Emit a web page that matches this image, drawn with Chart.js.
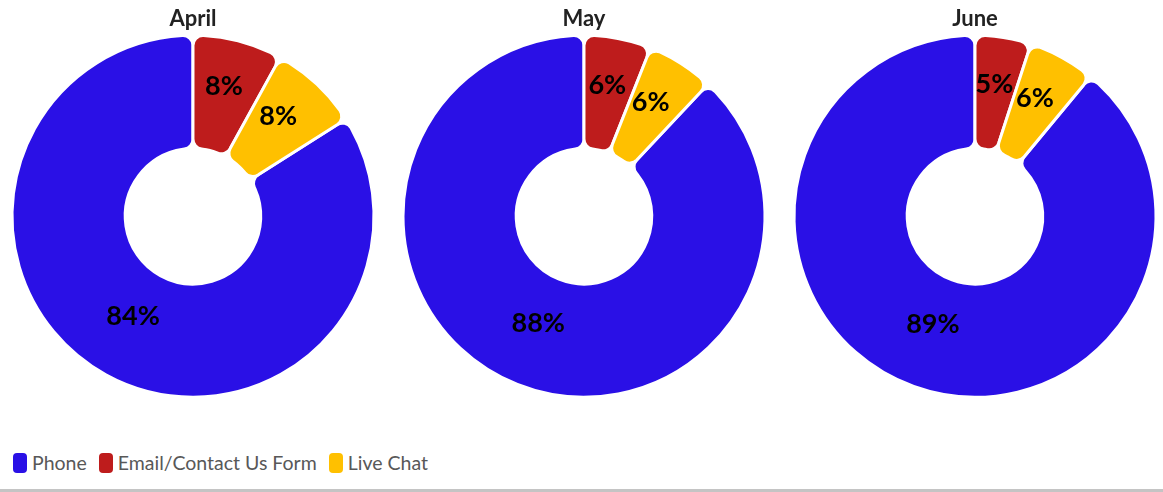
<!DOCTYPE html>
<html>
<head>
<meta charset="utf-8">
<script src="https://cdn.jsdelivr.net/npm/chart.js@4/dist/chart.umd.min.js"></script>
<style>
  html, body { margin: 0; padding: 0; background: #fff; }
  body { width: 1163px; height: 492px; position: relative; overflow: hidden; font-family: Lato, sans-serif; }
  .pie { position: absolute; top: 0; width: 390px; height: 420px; }
  #legend { position: absolute; left: 13px; top: 451px; display: flex; align-items: center; font-size: 19.5px; color: #585858; }
  #legend span.item { display: flex; align-items: center; margin-right: 12px; }
  #legend span.box { width: 14px; height: 20px; border-radius: 4px; margin-right: 5px; display: inline-block; }
  #rule { position: absolute; left: 0; right: 0; bottom: 0; height: 3px; background: #c4c4c4; }
</style>
</head>
<body>
<div class="pie" style="left:-2px"><canvas id="april" width="390" height="420"></canvas></div>
<div class="pie" style="left:389px"><canvas id="may" width="390" height="420"></canvas></div>
<div class="pie" style="left:780px"><canvas id="june" width="390" height="420"></canvas></div>
<div id="legend"></div>
<div id="rule"></div>
<script>
const months = ['April', 'May', 'June'];
const channels = ['Phone', 'Email/Contact Us Form', 'Live Chat'];
const colors = ['#2a10e6', '#be1c1c', '#ffc000'];

// share of contacts per channel, in percent
const april = [84, 8, 8];
const may = [88, 6, 6];
const june = [89, 5, 6];

// writes the percentage in the middle of each slice, sitting a bit high
const sliceLabels = {
  id: 'sliceLabels',
  afterDatasetsDraw(chart) {
    const {ctx} = chart;
    const meta = chart.getDatasetMeta(0);
    const values = chart.data.datasets[0].data;
    ctx.save();
    ctx.font = 'bold 27px Lato, sans-serif';
    ctx.fillStyle = '#000';
    ctx.textAlign = 'center';
    ctx.textBaseline = 'middle';
    meta.data.forEach((arc, i) => {
      const p = arc.tooltipPosition();
      ctx.fillText(values[i] + '%', p.x, p.y - 9);
    });
    ctx.restore();
  },
};

function makeDoughnut(id, title, values) {
  const ctx = document.getElementById(id).getContext('2d');
  // phone goes last so email starts at twelve o'clock
  const total = values.reduce((a, b) => a + b, 0);
  return new Chart(ctx, {
    type: 'doughnut',
    data: {
      labels: channels,
      datasets: [
        {
          data: values,
          backgroundColor: colors,
          borderColor: '#fff',
          borderWidth: 3,
          borderRadius: 10,
          hoverOffset: 0,
        },
      ],
    },
    options: {
      responsive: false,
      animation: false,
      radius: 181,
      cutout: 66,
      rotation: -360 * values[0] / total,
      layout: {padding: {bottom: 26}},
      plugins: {
        legend: {display: false},
        tooltip: {enabled: false},
        title: {
          display: true,
          text: title,
          color: '#222',
          font: {family: 'Lato, sans-serif', size: 22, weight: 'bold'},
          padding: {top: 6, bottom: 6},
        },
      },
    },
    plugins: [sliceLabels],
  });
}

const charts = [
  makeDoughnut('april', months[0], april),
  makeDoughnut('may', months[1], may),
  makeDoughnut('june', months[2], june),
];

// shared legend built from the first chart's legend items
const first = charts[0];
const items = first.options.plugins.legend.labels.generateLabels(first);
const legend = document.getElementById('legend');
items.forEach((it) => {
  const el = document.createElement('span');
  el.className = 'item';
  el.innerHTML = '<span class="box" style="background:' + it.fillStyle + '"></span>' + it.text;
  legend.appendChild(el);
});
</script>
</body>
</html>
